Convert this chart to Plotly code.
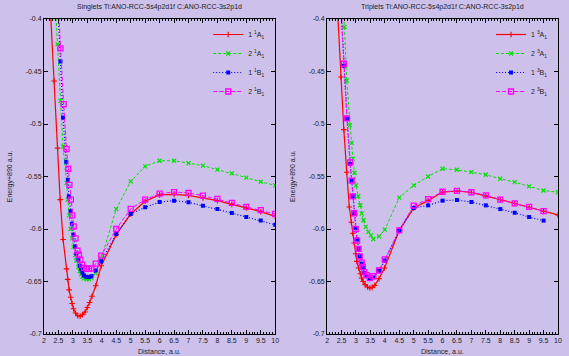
import plotly.graph_objects as go

# ---------------- data ----------------
# Singlets
s_a1_1_x = [2.20, 2.35, 2.47, 2.56, 2.66, 2.78, 2.82, 2.87, 2.92, 2.97, 3.02, 3.09, 3.17, 3.25, 3.33, 3.42, 3.50, 3.58, 3.66, 3.79, 3.98, 4.50, 5.00, 5.50, 6.00, 6.50, 7.00, 7.50, 8.00, 8.50, 9.00, 9.50, 10.00]
s_a1_1_y = [-0.380, -0.459, -0.523, -0.572, -0.610, -0.638, -0.648, -0.658, -0.665, -0.671, -0.676, -0.680, -0.6826, -0.683, -0.6816, -0.679, -0.6747, -0.670, -0.664, -0.654, -0.635, -0.6054, -0.5857, -0.5735, -0.5675, -0.567, -0.568, -0.5705, -0.573, -0.5765, -0.580, -0.5835, -0.588]

s_a1_2_x = [2.38, 2.47, 2.57, 2.66, 2.78, 2.82, 2.87, 2.92, 2.97, 3.02, 3.08, 3.12, 3.19, 3.24, 3.28, 3.33, 3.38, 3.47, 3.56, 3.64, 3.79, 3.98, 4.50, 5.00, 5.50, 6.00, 6.50, 7.00, 7.50, 8.00, 8.50, 9.00, 9.50, 10.00]
s_a1_2_y = [-0.380, -0.424, -0.478, -0.5216, -0.556, -0.572, -0.587, -0.600, -0.609, -0.617, -0.625, -0.630, -0.636, -0.640, -0.643, -0.6455, -0.647, -0.648, -0.648, -0.6465, -0.642, -0.628, -0.581, -0.5547, -0.5403, -0.535, -0.535, -0.5372, -0.5397, -0.5435, -0.547, -0.551, -0.555, -0.5585]

s_b1_1_x = [2.47, 2.57, 2.66, 2.77, 2.83, 2.86, 2.92, 2.97, 3.02, 3.08, 3.12, 3.19, 3.24, 3.28, 3.33, 3.38, 3.47, 3.56, 3.64, 3.79, 3.98, 4.50, 5.00, 5.50, 6.00, 6.50, 7.00, 7.50, 8.00, 8.50, 9.00, 9.50, 10.00]
s_b1_1_y = [-0.381, -0.4405, -0.4937, -0.536, -0.553, -0.569, -0.583, -0.595, -0.6055, -0.6166, -0.6236, -0.629, -0.635, -0.638, -0.6413, -0.6442, -0.6455, -0.6457, -0.645, -0.6394, -0.631, -0.6048, -0.5857, -0.5794, -0.5743, -0.573, -0.5746, -0.5778, -0.581, -0.5848, -0.5886, -0.592, -0.596]

s_b1_2_x = [2.47, 2.57, 2.68, 2.78, 2.84, 2.88, 2.93, 2.98, 3.03, 3.09, 3.16, 3.21, 3.26, 3.32, 3.38, 3.47, 3.56, 3.64, 3.79, 3.98, 4.50, 5.00, 5.50, 6.00, 6.50, 7.00, 7.50, 8.00, 8.50, 9.00, 9.50, 10.00]
s_b1_2_y = [-0.375, -0.428, -0.481, -0.5238, -0.5426, -0.558, -0.572, -0.587, -0.5975, -0.609, -0.6207, -0.6245, -0.6292, -0.634, -0.637, -0.638, -0.638, -0.6375, -0.633, -0.6254, -0.600, -0.5808, -0.572, -0.5664, -0.5648, -0.5657, -0.5683, -0.5714, -0.5752, -0.579, -0.582, -0.5857]

# Triplets
t_a1_1_x = [2.30, 2.48, 2.58, 2.68, 2.77, 2.84, 2.89, 2.94, 2.99, 3.03, 3.09, 3.15, 3.19, 3.25, 3.32, 3.40, 3.48, 3.56, 3.65, 3.80, 3.99, 4.50, 5.00, 5.50, 6.00, 6.50, 7.00, 7.50, 8.00, 8.50, 9.00, 9.50, 10.00]
t_a1_1_y = [-0.360, -0.4553, -0.5054, -0.546, -0.579, -0.5936, -0.604, -0.6134, -0.6235, -0.6308, -0.6372, -0.6426, -0.6467, -0.650, -0.653, -0.6552, -0.6562, -0.6556, -0.6537, -0.6473, -0.6372, -0.6013, -0.580, -0.573, -0.5648, -0.5638, -0.5652, -0.5683, -0.572, -0.5757, -0.5793, -0.5832, -0.5866]

t_a1_2_x = [2.50, 2.60, 2.68, 2.79, 2.85, 2.89, 2.95, 3.00, 3.08, 3.15, 3.20, 3.26, 3.34, 3.43, 3.52, 3.60, 3.80, 4.00, 4.50, 5.00, 5.50, 6.00, 6.50, 7.00, 7.50, 8.00, 8.50, 9.00, 9.50, 10.00]
t_a1_2_y = [-0.360, -0.4076, -0.4586, -0.501, -0.518, -0.533, -0.5464, -0.5585, -0.5688, -0.5774, -0.5853, -0.5917, -0.598, -0.6028, -0.606, -0.6095, -0.607, -0.6006, -0.5701, -0.5585, -0.550, -0.5426, -0.5436, -0.5458, -0.5483, -0.5521, -0.5553, -0.5594, -0.5633, -0.565]

t_b1_1_x = [2.45, 2.58, 2.69, 2.80, 2.85, 2.89, 2.94, 2.99, 3.04, 3.09, 3.13, 3.20, 3.24, 3.29, 3.37, 3.48, 3.60, 3.80, 4.00, 4.50, 5.00, 5.50, 6.00, 6.50, 7.00, 7.50, 8.00, 8.50, 9.00, 9.50]
t_b1_1_y = [-0.375, -0.4445, -0.495, -0.538, -0.554, -0.569, -0.585, -0.599, -0.610, -0.619, -0.626, -0.633, -0.637, -0.642, -0.645, -0.6475, -0.646, -0.640, -0.630, -0.6015, -0.580, -0.5775, -0.573, -0.5724, -0.5743, -0.5775, -0.581, -0.5845, -0.5886, -0.592]

t_b1_2_x = [2.45, 2.58, 2.69, 2.80, 2.85, 2.89, 2.94, 2.99, 3.04, 3.09, 3.13, 3.20, 3.24, 3.29, 3.37, 3.48, 3.60, 3.80, 4.00, 4.50, 5.00, 5.50, 6.00, 6.50, 7.00, 7.50, 8.00, 8.50, 9.00, 9.50]
t_b1_2_y = [-0.372, -0.4426, -0.4947, -0.5366, -0.554, -0.569, -0.585, -0.600, -0.611, -0.619, -0.626, -0.632, -0.636, -0.641, -0.644, -0.6467, -0.645, -0.6395, -0.629, -0.6013, -0.5777, -0.5716, -0.5645, -0.5636, -0.565, -0.568, -0.572, -0.5756, -0.579, -0.583]

singlet_names = ["1 <sup>1</sup>A<sub>1</sub>", "2 <sup>1</sup>A<sub>1</sub>", "1 <sup>1</sup>B<sub>1</sub>", "2 <sup>1</sup>B<sub>1</sub>"]
triplet_names = ["1 <sup>3</sup>A<sub>1</sub>", "2 <sup>3</sup>A<sub>1</sub>", "1 <sup>3</sup>B<sub>1</sub>", "2 <sup>3</sup>B<sub>1</sub>"]
titles = ["Singlets Ti:ANO-RCC-5s4p2d1f C:ANO-RCC-3s2p1d", "Triplets Ti:ANO-RCC-5s4p2d1f C:ANO-RCC-3s2p1d"]
x_title = "Distance, a.u."
y_title = "Energy+890 a.u."
x_tickvals = [2, 2.5, 3, 3.5, 4, 4.5, 5, 5.5, 6, 6.5, 7, 7.5, 8, 8.5, 9, 9.5, 10]
x_ticktext = ["2", "2.5", "3", "3.5", "4", "4.5", "5", "5.5", "6", "6.5", "7", "7.5", "8", "8.5", "9", "9.5", "10"]
y_tickvals = [-0.4, -0.45, -0.5, -0.55, -0.6, -0.65, -0.7]
y_ticktext = ["-0.4", "-0.45", "-0.5", "-0.55", "-0.6", "-0.65", "-0.7"]

# ---------------- layout helpers ----------------
W, H = 569, 356
PL, PR, PT, PB = 44, 562, 19, 334     # overall plotting region (px)
BG = "#cdc0eb"
FONT = "Liberation Sans, Arial, sans-serif"

def px_x(px):
    return (px - PL) / (PR - PL)

def px_y(py):
    return (PB - py) / (PB - PT)

styles = [
    dict(color="#ff0000", dash="solid", width=1.2, symbol="cross-thin", size=4, mlw=1.1, mcolor="#ff0000"),
    dict(color="#00e000", dash="3px,2px", width=1, symbol="x-thin", size=4, mlw=1.2, mcolor="#00e000"),
    dict(color="#0000ff", dash="1px,2px", width=1.2, symbol="square", size=4, mlw=0, mcolor="#0000ff"),
    dict(color="#ff00ff", dash="4px,2px", width=1, symbol="square-open", size=5, mlw=1.3, mcolor="#ff00ff"),
]

fig = go.Figure()

panels = [
    ("x", "y", "legend", singlet_names,
     [(s_a1_1_x, s_a1_1_y), (s_a1_2_x, s_a1_2_y), (s_b1_1_x, s_b1_1_y), (s_b1_2_x, s_b1_2_y)]),
    ("x2", "y2", "legend2", triplet_names,
     [(t_a1_1_x, t_a1_1_y), (t_a1_2_x, t_a1_2_y), (t_b1_1_x, t_b1_1_y), (t_b1_2_x, t_b1_2_y)]),
]

for xa, ya, lg, names, series in panels:
    for (xs, ys), name, st in zip(series, names, styles):
        fig.add_trace(go.Scatter(
            x=xs, y=ys, name=name, mode="lines+markers",
            xaxis=xa, yaxis=ya, legend=lg,
            line=dict(color=st["color"], dash=st["dash"], width=st["width"]),
            marker=dict(symbol=st["symbol"], size=st["size"], color=st["mcolor"],
                        line=dict(color=st["mcolor"], width=st["mlw"])),
            cliponaxis=True,
        ))

left_dom = [0, px_x(277)]
right_dom = [px_x(329.3), 1]

def xaxis(dom, anchor):
    return dict(domain=dom, anchor=anchor, range=[2, 10], tickmode="array",
                tickvals=x_tickvals, ticktext=x_ticktext,
                ticks="inside", ticklen=4, tickwidth=1, tickcolor="#000",
                minor=dict(dtick=0.1, tick0=2, ticks="inside", ticklen=2, tickwidth=1, tickcolor="#000"),
                showline=True, linecolor="#000", linewidth=1, mirror="ticks",
                showgrid=False, zeroline=False,
                tickfont=dict(family=FONT, size=7, color="#222"))

def yaxis(anchor):
    return dict(domain=[0, 1], anchor=anchor, range=[-0.7, -0.4], tickmode="array",
                tickvals=y_tickvals, ticktext=y_ticktext,
                ticks="inside", ticklen=4, tickwidth=1, tickcolor="#000",
                showline=True, linecolor="#000", linewidth=1, mirror="ticks",
                showgrid=False, zeroline=False,
                tickfont=dict(family=FONT, size=7, color="#222"))

legend_common = dict(bgcolor="rgba(0,0,0,0)", font=dict(family=FONT, size=7, color="#222"),
                     xanchor="right", yanchor="top", tracegroupgap=0, itemwidth=30,
                     borderwidth=0)

annotations = []
for cx, title in [((44 + 277) / 2, titles[0]), ((329.3 + 562.3) / 2, titles[1])]:
    annotations.append(dict(text=title, x=px_x(cx), y=px_y(7), xref="paper", yref="paper",
                            showarrow=False, xanchor="center", yanchor="middle",
                            font=dict(family=FONT, size=7, color="#222")))
    annotations.append(dict(text=x_title, x=px_x(cx), y=px_y(351), xref="paper", yref="paper",
                            showarrow=False, xanchor="center", yanchor="middle",
                            font=dict(family=FONT, size=7, color="#222")))
for ax_px in [10, 295]:
    annotations.append(dict(text=y_title, x=px_x(ax_px), y=px_y(176), xref="paper", yref="paper",
                            showarrow=False, xanchor="center", yanchor="middle", textangle=-90,
                            font=dict(family=FONT, size=7, color="#222")))

fig.update_layout(
    width=W, height=H,
    margin=dict(l=PL, r=W - PR, t=PT, b=H - PB, pad=0),
    paper_bgcolor=BG, plot_bgcolor=BG,
    showlegend=True,
    xaxis=xaxis(left_dom, "y"),
    yaxis=yaxis("x"),
    xaxis2=xaxis(right_dom, "y2"),
    yaxis2=yaxis("x2"),
    legend=dict(x=px_x(272), y=px_y(20), **legend_common),
    legend2=dict(x=px_x(557), y=px_y(20), **legend_common),
    annotations=annotations,
    font=dict(family=FONT, size=7, color="#222"),
)

fig.write_html("out.html",
               config={"displayModeBar": False},
               post_script="document.body.style.margin='0px';document.body.style.padding='0px';"
                           "document.body.style.overflow='hidden';")
